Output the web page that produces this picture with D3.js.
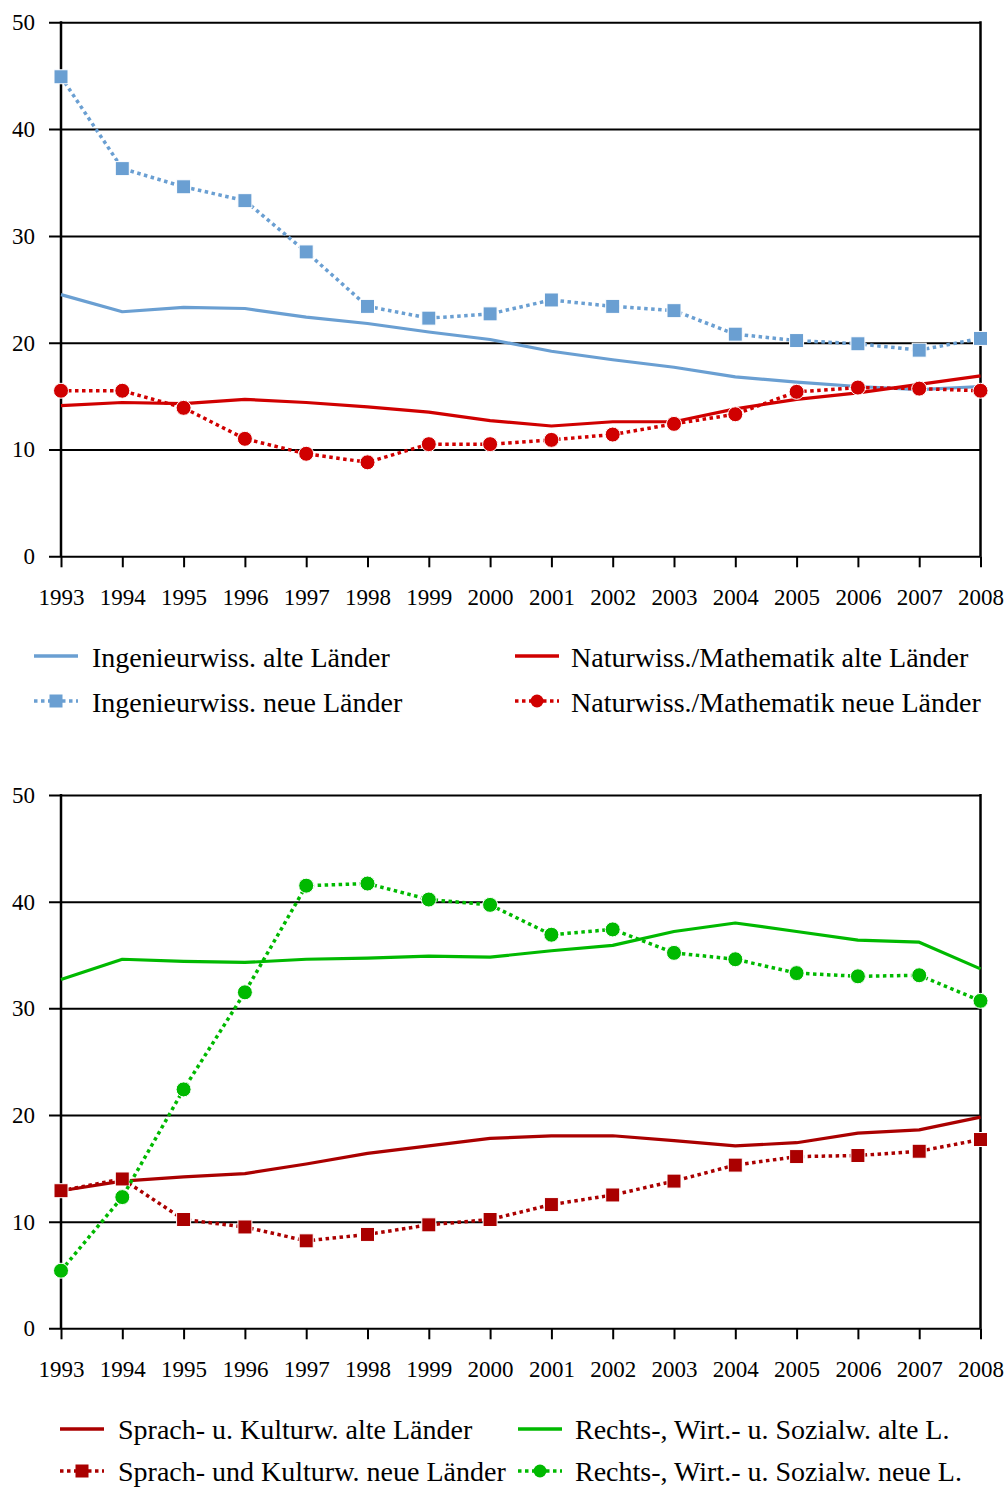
<!DOCTYPE html>
<html>
<head>
<meta charset="utf-8">
<script src="https://cdn.jsdelivr.net/npm/d3@7/dist/d3.min.js"></script>
<style>
  html, body { margin: 0; padding: 0; background: #fff; }
  svg { display: block; }
  text { font-family: "Liberation Serif", "Times New Roman", serif; fill: #000; }
</style>
</head>
<body>
<svg id="chart" width="1008" height="1488"></svg>
<script>
// Years on the horizontal axis
const years = [1993, 1994, 1995, 1996, 1997, 1998, 1999, 2000, 2001, 2002, 2003, 2004, 2005, 2006, 2007, 2008];
const yTickValues = [0, 10, 20, 30, 40, 50];

// Upper panel: engineering and natural sciences
const ingAlte   = [24.5, 22.9, 23.3, 23.2, 22.4, 21.8, 21.0, 20.3, 19.2, 18.4, 17.7, 16.8, 16.3, 15.9, 15.6, 15.9];
const ingNeue   = [44.9, 36.3, 34.6, 33.3, 28.5, 23.4, 22.3, 22.7, 24.0, 23.4, 23.0, 20.8, 20.2, 19.9, 19.3, 20.4];
const natAlte   = [14.1, 14.4, 14.3, 14.7, 14.4, 14.0, 13.5, 12.7, 12.2, 12.6, 12.6, 13.8, 14.7, 15.3, 16.1, 16.9];
const natNeue   = [15.5, 15.5, 13.9, 11.0, 9.6, 8.8, 10.5, 10.5, 10.9, 11.4, 12.4, 13.3, 15.4, 15.8, 15.7, 15.5];

// Lower panel: languages/cultural studies and law/economics/social sciences
const sprAlte   = [12.9, 13.8, 14.2, 14.5, 15.4, 16.4, 17.1, 17.8, 18.05, 18.05, 17.6, 17.1, 17.4, 18.3, 18.6, 19.8];
const sprNeue   = [12.9, 14.0, 10.2, 9.5, 8.2, 8.8, 9.7, 10.2, 11.6, 12.5, 13.8, 15.3, 16.1, 16.2, 16.6, 17.7];
const rewiAlte  = [32.7, 34.6, 34.4, 34.3, 34.6, 34.7, 34.9, 34.8, 35.4, 35.9, 37.2, 38.0, 37.2, 36.4, 36.2, 33.7];
const rewiNeue  = [5.4, 12.3, 22.4, 31.5, 41.5, 41.7, 40.2, 39.7, 36.9, 37.4, 35.2, 34.6, 33.3, 33.0, 33.1, 30.7];

const BLUE = "#6a9fd2", RED = "#d00000", DARKRED = "#aa0000", GREEN = "#00b900";
const SERIF = "Liberation Serif, Times New Roman, serif";

const topSeries = [
  { name: "Ingenieurwiss. alte Länder", values: ingAlte, color: BLUE, dotted: false },
  { name: "Naturwiss./Mathematik alte Länder", values: natAlte, color: RED, dotted: false },
  { name: "Ingenieurwiss. neue Länder", values: ingNeue, color: BLUE, dotted: true, marker: "square" },
  { name: "Naturwiss./Mathematik neue Länder", values: natNeue, color: RED, dotted: true, marker: "circle" }
];
const bottomSeries = [
  { name: "Sprach- u. Kulturw. alte Länder", values: sprAlte, color: DARKRED, dotted: false },
  { name: "Sprach- und Kulturw. neue Länder", values: sprNeue, color: DARKRED, dotted: true, marker: "square" },
  { name: "Rechts-, Wirt.- u. Sozialw. alte L.", values: rewiAlte, color: GREEN, dotted: false },
  { name: "Rechts-, Wirt.- u. Sozialw. neue L.", values: rewiNeue, color: GREEN, dotted: true, marker: "circle" }
];

const svg = d3.select("#chart");
const xLeft = 61, xRight = 980.5;

function drawPanel(series, yBottom, yTop) {
  const x = d3.scaleLinear().domain([1993, 2008]).range([xLeft, xRight]);
  const y = d3.scaleLinear().domain([0, 50]).range([yBottom, yTop]);
  const g = svg.append("g");

  // horizontal grid with value labels
  const yAxis = d3.axisLeft(y)
    .tickValues(yTickValues)
    .tickSizeInner(-(xRight - 49))
    .tickSizeOuter(0)
    .tickPadding(14)
    .tickFormat(d3.format("d"));
  const ya = g.append("g").attr("transform", "translate(49,0)").call(yAxis)
    .attr("font-family", SERIF);
  ya.select(".domain").remove();
  ya.selectAll(".tick line").attr("stroke", "#000").attr("stroke-width", 2);
  ya.selectAll(".tick text").attr("font-size", 23).attr("fill", "#000");

  // year axis
  const xAxis = d3.axisBottom(x)
    .tickValues(years)
    .tickSizeInner(11)
    .tickSizeOuter(0)
    .tickPadding(21)
    .tickFormat(d3.format("d"));
  const xa = g.append("g").attr("transform", `translate(0,${yBottom})`).call(xAxis)
    .attr("font-family", SERIF);
  xa.select(".domain").remove();
  xa.selectAll(".tick line").attr("stroke", "#000").attr("stroke-width", 2);
  xa.selectAll(".tick text").attr("font-size", 23).attr("fill", "#000");

  // left axis and right frame line
  g.append("line").attr("x1", xLeft).attr("x2", xLeft).attr("y1", y(50) - 1).attr("y2", yBottom)
    .attr("stroke", "#000").attr("stroke-width", 2.5);
  g.append("line").attr("x1", xRight).attr("x2", xRight).attr("y1", y(50) - 1).attr("y2", yBottom)
    .attr("stroke", "#000").attr("stroke-width", 2.5);

  const line = d3.line().x((d, i) => x(years[i])).y(d => y(d));

  series.forEach(s => {
    g.append("path")
      .datum(s.values)
      .attr("d", line)
      .attr("fill", "none")
      .attr("stroke", s.color)
      .attr("stroke-width", s.dotted ? 3.5 : 3.2)
      .attr("stroke-dasharray", s.dotted ? "3.5,3.5" : null)
      .attr("stroke-linejoin", "round");
    if (s.marker === "square") {
      g.selectAll(null).data(s.values).enter().append("rect")
        .attr("x", (d, i) => x(years[i]) - 7)
        .attr("y", d => y(d) - 7)
        .attr("width", 14).attr("height", 14)
        .attr("fill", s.color).attr("stroke", "#fff").attr("stroke-width", 1);
    } else if (s.marker === "circle") {
      g.selectAll(null).data(s.values).enter().append("circle")
        .attr("cx", (d, i) => x(years[i]))
        .attr("cy", d => y(d))
        .attr("r", 7.5)
        .attr("fill", s.color).attr("stroke", "#fff").attr("stroke-width", 1);
    }
  });
}

function drawLegend(items, baselineOffset) {
  // items: [series, swatchX, textX, centerY]
  items.forEach(([s, sx, tx, cy]) => {
    const lg = svg.append("g");
    const w = 44;
    lg.append("line")
      .attr("x1", sx).attr("x2", sx + w).attr("y1", cy).attr("y2", cy)
      .attr("stroke", s.color)
      .attr("stroke-width", 3.5)
      .attr("stroke-dasharray", s.dotted ? "3.5,3.5" : null);
    if (s.marker === "square") {
      lg.append("rect").attr("x", sx + w / 2 - 6.5).attr("y", cy - 6.5).attr("width", 13).attr("height", 13)
        .attr("fill", s.color);
    } else if (s.marker === "circle") {
      lg.append("circle").attr("cx", sx + w / 2).attr("cy", cy).attr("r", 6.5).attr("fill", s.color);
    }
    lg.append("text").attr("x", tx).attr("y", cy + baselineOffset).attr("font-size", 28).text(s.name);
  });
}

drawPanel(topSeries, 556.3, 22.3);
drawPanel(bottomSeries, 1328.3, 795);

drawLegend([
  [topSeries[0], 34, 92, 656],
  [topSeries[2], 34, 92, 701],
  [topSeries[1], 515, 571, 656],
  [topSeries[3], 515, 571, 701]
], 10.5);
drawLegend([
  [bottomSeries[0], 60, 118, 1429],
  [bottomSeries[1], 60, 118, 1471],
  [bottomSeries[2], 518, 575, 1429],
  [bottomSeries[3], 518, 575, 1471]
], 9.5);
</script>
</body>
</html>
